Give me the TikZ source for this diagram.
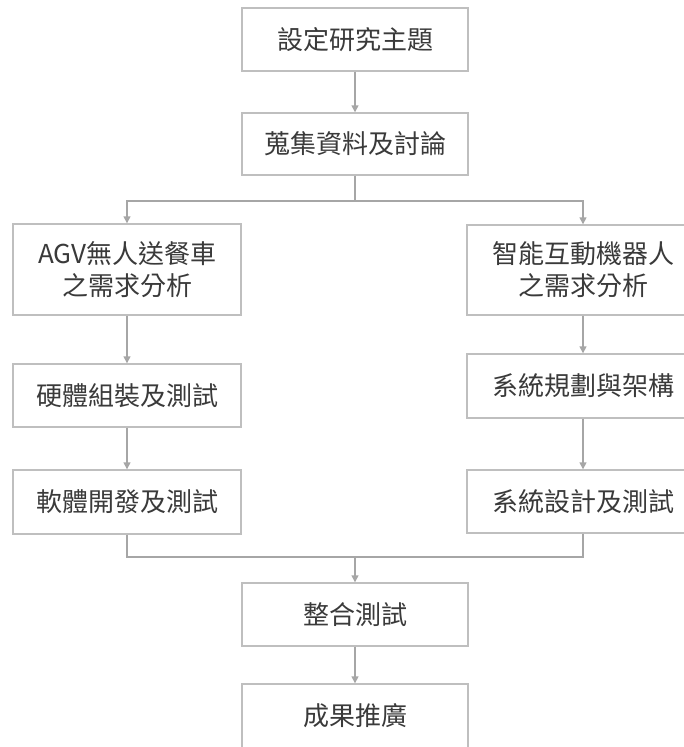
\documentclass[tikz,border=0pt]{standalone}
\usepackage{fontspec}
\setmainfont{Noto Sans CJK TC}
\usetikzlibrary{arrows.meta}
\definecolor{boxline}{HTML}{BFBFBF}
\definecolor{conline}{HTML}{A6A6A6}
\definecolor{txt}{HTML}{3A3A3A}
\tikzset{
  box/.style={draw=boxline, line width=1.4pt, fill=white, inner sep=0pt,
    text=txt, align=center, font=\fontsize{26}{32}\selectfont},
  con/.style={draw=conline, line width=1.4pt},
  arr/.style={con, -{Triangle[width=7pt,length=7pt]}}
}
\begin{document}
\begin{tikzpicture}[x=1pt,y=-1pt]
\useasboundingbox (0,0) rectangle (684,747);
\clip (0,0) rectangle (684,747);
\node[box, minimum width=226pt, minimum height=63pt] (b1) at (355,39.5) {設定研究主題};
\node[box, minimum width=226pt, minimum height=62pt] (b2) at (355,144) {蒐集資料及討論};
\node[box, minimum width=228pt, minimum height=91pt] (b3) at (127,269.5) {AGV無人送餐車\\之需求分析};
\node[box, minimum width=232pt, minimum height=90pt] (b4) at (583,270) {智能互動機器人\\之需求分析};
\node[box, minimum width=228pt, minimum height=63pt] (b5) at (127,395.5) {硬體組裝及測試};
\node[box, minimum width=232pt, minimum height=64pt] (b6) at (583,386) {系統規劃與架構};
\node[box, minimum width=228pt, minimum height=64pt] (b7) at (127,502) {軟體開發及測試};
\node[box, minimum width=232pt, minimum height=63pt] (b8) at (583,501.5) {系統設計及測試};
\node[box, minimum width=226pt, minimum height=63pt] (b9) at (355,614.5) {整合測試};
\node[box, minimum width=226pt, minimum height=64pt] (b10) at (355,716) {成果推廣};
\coordinate (sp) at (355,201);
\coordinate (mg) at (355,557);
\draw[arr] (b1) -- (b2);
\draw[con] (b2) -- (sp);
\draw[arr] (sp) -| (b3.north);
\draw[arr] (sp) -| (b4.north);
\draw[arr] (b3) -- (b5);
\draw[arr] (b5) -- (b7);
\draw[arr] (b4) -- (b6);
\draw[arr] (b6) -- (b8);
\draw[con] (b7.south) |- (mg);
\draw[con] (b8.south) |- (mg);
\draw[arr] (mg) -- (b9);
\draw[arr] (b9) -- (b10);
\end{tikzpicture}
\end{document}
